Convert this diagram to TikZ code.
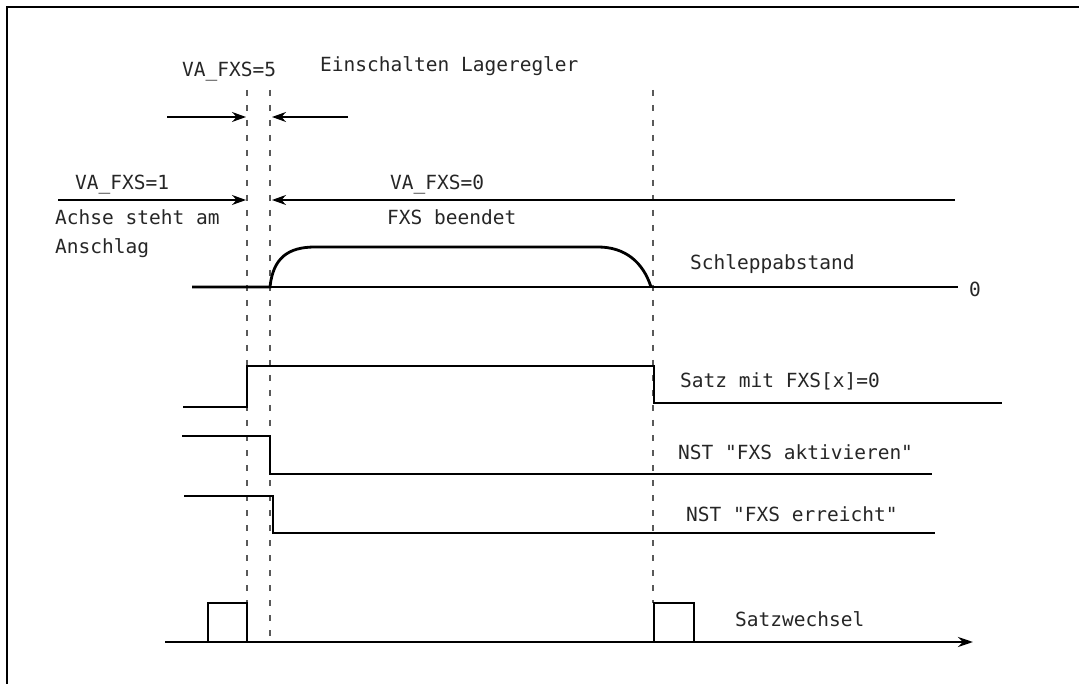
\documentclass[tikz,border=0pt]{standalone}
\usepackage{fontspec}
\setmonofont{DejaVu Sans Mono}
\usetikzlibrary{arrows.meta}
\begin{document}
\begin{tikzpicture}[x=1pt,y=-1pt,
  lbl/.style={font=\ttfamily\fontsize{19.5}{21}\selectfont, inner sep=0pt, anchor=base west, text=black!85},
  sig/.style={line width=2.8pt, line join=miter, line cap=butt},
  thinline/.style={line width=1.4pt},
  guide/.style={line width=1.4pt, black!65, dash pattern=on 6pt off 9pt},
  arr/.style={line width=1.4pt, -{Stealth[length=14pt,width=10pt]}}]
\useasboundingbox (0,0) rectangle (1079,684);
\draw[line width=2pt] (7,684) -- (7,7) -- (1079,7);

% guide lines
\coordinate (g1t) at (247,90); \coordinate (g1b) at (247,603);
\coordinate (g2t) at (270,90); \coordinate (g2b) at (270,642);
\coordinate (g3t) at (653,90); \coordinate (g3b) at (653,603);
\draw[guide] (g1t) -- (g1b);
\draw[guide] (g2t) -- (g2b);
\draw[guide] (g3t) -- (g3b);

% labels
\node[lbl] (va5) at (182,77) {VA\_FXS=5};
\node[lbl] (ein) at (320,72) {Einschalten Lageregler};
\node[lbl] (va1) at (75,190) {VA\_FXS=1};
\node[lbl] (achse) at (55,225) {Achse steht am};
\node[lbl] (ansch) at (55,254) {Anschlag};
\node[lbl] (va0) at (390,190) {VA\_FXS=0};
\node[lbl] (beend) at (387,225) {FXS beendet};
\node[lbl] (schl) at (690,270) {Schleppabstand};
\node[lbl] (zero) at (969,297) {0};
\node[lbl] (satz) at (680,388) {Satz mit FXS[x]=0};
\node[lbl] (akt) at (678,459) {NST "FXS aktivieren"};
\node[lbl] (err) at (686,521) {NST "FXS erreicht"};
\node[lbl] (sw) at (735,626) {Satzwechsel};

% arrows
\coordinate (a5ls) at (167,117); \coordinate (a5le) at (246,117);
\coordinate (a5rs) at (348,117); \coordinate (a5re) at (272,117);
\coordinate (a1s) at (58,200); \coordinate (a1e) at (246,200);
\coordinate (a0s) at (955,200); \coordinate (a0e) at (272,200);
\draw[arr] (a5ls) -- (a5le);
\draw[arr] (a5rs) -- (a5re);
\draw[arr] (a1s) -- (a1e);
\draw[arr] (a0s) -- (a0e);

% Schleppabstand
\draw[thinline] (270,287) -- (653,287);
\draw[sig] (192,287) -- (270,287)
  .. controls (273,258) and (288,247) .. (315,247)
  -- (598,247)
  .. controls (625,247) and (643,262) .. (651,287);
\draw[sig] (653,287) -- (958,287);

% Satz mit FXS
\draw[sig] (183,407) -- (247,407) -- (247,366) -- (654,366) -- (654,403) -- (1002,403);
% NST FXS aktivieren
\draw[sig] (182,436) -- (270,436) -- (270,474) -- (932,474);
% NST FXS erreicht
\draw[sig] (184,496) -- (273,496) -- (273,533) -- (935,533);
% Satzwechsel
\coordinate (sws) at (165,642); \coordinate (swe) at (973,642);
\draw[sig, -{Stealth[length=15pt,width=10pt]}] (sws) -- (swe);
\draw[sig] (208,642) -- (208,603) -- (247,603) -- (247,642);
\draw[sig] (654,642) -- (654,603) -- (694,603) -- (694,642);
\end{tikzpicture}
\end{document}
